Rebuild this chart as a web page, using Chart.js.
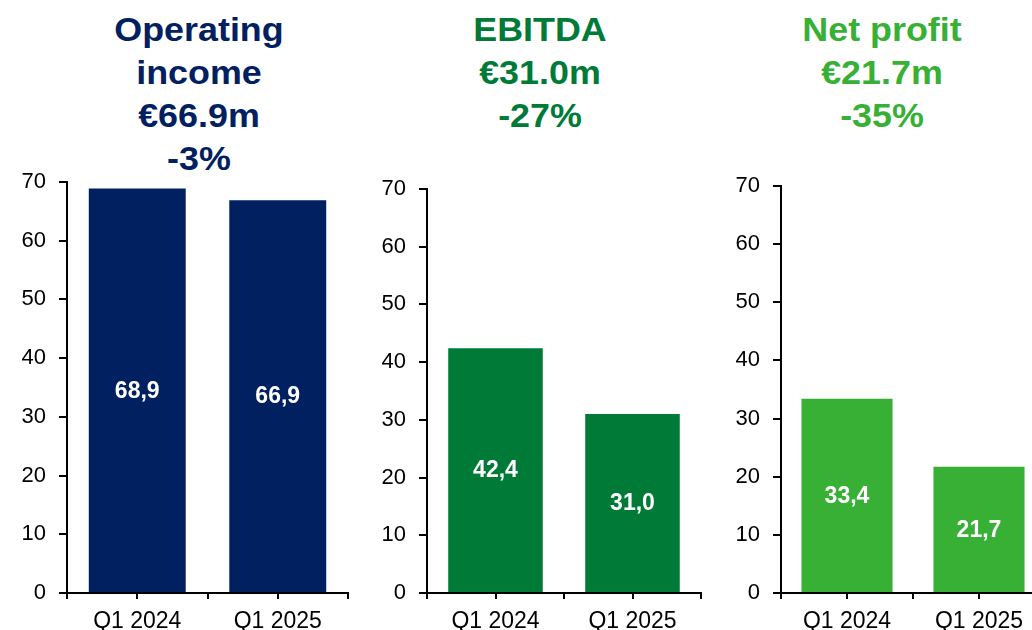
<!DOCTYPE html>
<html>
<head>
<meta charset="utf-8">
<script src="https://cdn.jsdelivr.net/npm/chart.js@4"></script>
<style>
  html, body { margin:0; padding:0; width:1032px; height:630px; overflow:hidden; background:#fff; }
  .title { position:absolute; top:8px; width:300px; text-align:center; font-family:"Liberation Sans", Arial, sans-serif; font-weight:bold; font-size:34px; line-height:43px; transform:scaleX(1.055); transform-origin:50% 0; }
  canvas { position:absolute; }
</style>
</head>
<body>
<div class="title" id="t1" style="left:49px;color:#012060;"></div>
<div class="title" id="t2" style="left:390px;color:#007A37;"></div>
<div class="title" id="t3" style="left:732px;color:#37B035;"></div>
<canvas id="c1" width="360" height="480" style="left:0px;top:160px;"></canvas>
<canvas id="c2" width="340" height="480" style="left:370px;top:160px;"></canvas>
<canvas id="c3" width="340" height="480" style="left:720px;top:160px;"></canvas>
<script>
// ---- data ----
const categories = ["Q1 2024", "Q1 2025"];
const operatingIncome = [68.9, 66.9];
const ebitda = [42.4, 31.0];
const netProfit = [33.4, 21.7];
const yTicks = [0, 10, 20, 30, 40, 50, 60, 70];
const title1 = ["Operating", "income", "€66.9m", "-3%"];
const title2 = ["EBITDA", "€31.0m", "-27%"];
const title3 = ["Net profit", "€21.7m", "-35%"];

document.getElementById('t1').innerHTML = title1.join('<br>');
document.getElementById('t2').innerHTML = title2.join('<br>');
document.getElementById('t3').innerHTML = title3.join('<br>');

const FONT = '"Liberation Sans", Arial, sans-serif';

const valueLabels = {
  id: 'valueLabels',
  afterDatasetsDraw(chart) {
    const ctx = chart.ctx;
    const meta = chart.getDatasetMeta(0);
    ctx.save();
    ctx.fillStyle = '#fff';
    ctx.font = 'bold 23px ' + FONT;
    ctx.textAlign = 'center';
    ctx.textBaseline = 'middle';
    meta.data.forEach((bar, i) => {
      const v = chart.data.datasets[0].data[i];
      const txt = v.toFixed(1).replace('.', ',');
      ctx.fillText(txt, bar.x, (bar.y + bar.base) / 2 + 1);
    });
    ctx.restore();
  }
};

const centerTicks = {
  id: 'centerTicks',
  afterDraw(chart) {
    const xs = chart.scales.x;
    const ctx = chart.ctx;
    ctx.save();
    ctx.strokeStyle = '#000';
    ctx.lineWidth = 2;
    categories.forEach((c, i) => {
      const x = Math.round(xs.getPixelForValue(i));
      ctx.beginPath();
      ctx.moveTo(x, xs.top);
      ctx.lineTo(x, xs.top + 6);
      ctx.stroke();
    });
    ctx.restore();
  }
};

function makeChart(id, values, color, yWidth, pad) {
  return new Chart(document.getElementById(id), {
    type: 'bar',
    data: {
      labels: categories,
      datasets: [{ data: values, backgroundColor: color, borderWidth: 0, barPercentage: 0.69, categoryPercentage: 1.0 }]
    },
    options: {
      responsive: false,
      animation: false,
      devicePixelRatio: 1,
      layout: { padding: pad },
      plugins: { legend: { display: false }, tooltip: { enabled: false }, title: { display: false } },
      scales: {
        x: {
          offset: true,
          grid: { display: true, drawOnChartArea: false, drawTicks: true, tickLength: 6, color: '#000', lineWidth: 2, offset: true },
          border: { display: true, color: '#000', width: 2 },
          ticks: { color: '#000', font: { family: FONT, size: 23 }, padding: 9, maxRotation: 0 },
          afterFit: (s) => { s.height = 47; s.paddingLeft = 0; s.paddingRight = 0; }
        },
        y: {
          min: 0, max: 70,
          afterBuildTicks: (s) => { s.ticks = yTicks.map(v => ({ value: v })); },
          grid: { display: true, drawOnChartArea: false, drawTicks: true, tickLength: 8, color: '#000', lineWidth: 2 },
          border: { display: true, color: '#000', width: 2 },
          ticks: { color: '#000', font: { family: FONT, size: 22 }, padding: 13 },
          afterFit: (s) => { s.width = yWidth; s.paddingTop = 0; s.paddingBottom = 0; }
        }
      }
    },
    plugins: [valueLabels, centerTicks]
  });
}

makeChart('c1', operatingIncome, '#012060', 67, { top: 22, right: 12, left: 0, bottom: 0 });
makeChart('c2', ebitda, '#007A37', 57, { top: 29, right: 9, left: 0, bottom: 0 });
makeChart('c3', netProfit, '#37B035', 61, { top: 26, right: 15, left: 0, bottom: 0 });
</script>
</body>
</html>
